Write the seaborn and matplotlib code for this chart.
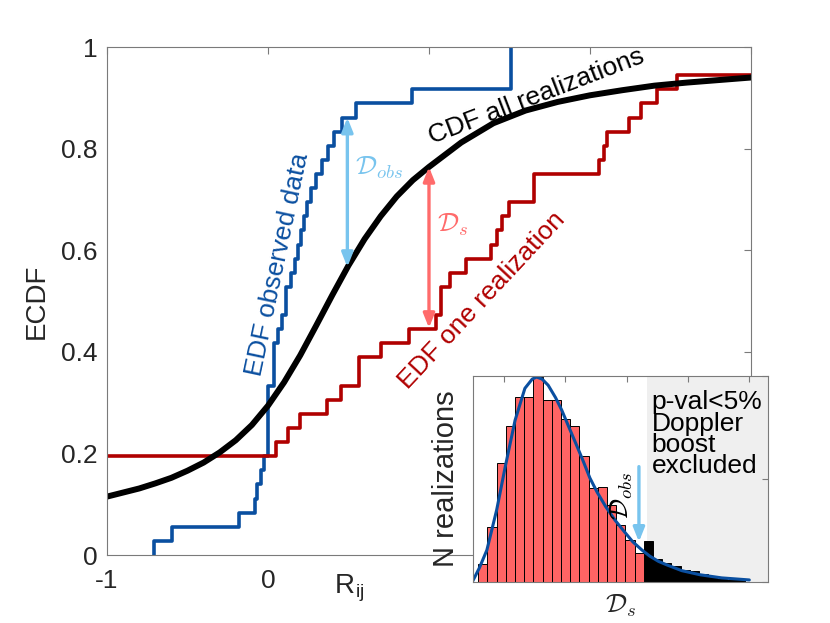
import numpy as np
import pandas as pd
import matplotlib
matplotlib.use("Agg")
import matplotlib.pyplot as plt
import seaborn as sns

# observed R_ij values (36 pairs) and one simulated realization
obs_r = [-0.708, -0.598, -0.180, -0.081, -0.066, -0.045, -0.025,
         0.003, 0.003, 0.003, 0.003, 0.003,
         0.037, 0.037, 0.037, 0.064, 0.089, 0.110, 0.110,
         0.141, 0.165, 0.185, 0.205, 0.225, 0.245, 0.270, 0.300,
         0.335, 0.370, 0.410, 0.462, 0.544, 0.896,
         1.507, 1.507, 1.507]
sim_r = [-2.6, -2.1, -1.9, -1.6, -1.4, -1.25, -1.1,
         0.048, 0.126, 0.197, 0.369, 0.452, 0.565, 0.565, 0.700, 0.876,
         1.041, 1.077, 1.077, 1.129, 1.232, 1.383, 1.424, 1.451, 1.497,
         1.652, 1.652, 2.056, 2.087, 2.107, 2.242, 2.315, 2.418, 2.542,
         3.4, 4.2]

# CDF of all realizations
cdf_r = [-1.0, -0.9, -0.8, -0.7, -0.6, -0.5, -0.4, -0.3, -0.2, -0.1, 0.0,
         0.1, 0.2, 0.3, 0.4, 0.5, 0.6, 0.7, 0.8, 0.9, 1.0, 1.2, 1.4, 1.6,
         1.8, 2.0, 2.2, 2.4, 2.6, 2.8, 3.0]
cdf_p = [0.115, 0.123, 0.131, 0.141, 0.152, 0.166, 0.182, 0.202, 0.226,
         0.256, 0.294, 0.340, 0.393, 0.452, 0.512, 0.570, 0.622, 0.667,
         0.706, 0.738, 0.764, 0.812, 0.850, 0.875, 0.892, 0.905, 0.915,
         0.924, 0.930, 0.935, 0.940]

# KS distances shown as arrows: (x, lower, upper)
d_obs = (0.493, 0.567, 0.861)
d_sim = (1.0, 0.447, 0.764)

# inset: histogram of D_s over realizations
d_bin_left = 0.058
d_bin_width = 0.015
d_counts = [17, 53, 116, 151, 180, 180, 199, 177, 177, 158, 151, 122, 91, 92,
            75, 55, 41, 28, 40, 22, 18, 16, 12, 11, 8, 5, 3, 2, 2]
d_group = ["sub"] * 18 + ["sig"] * 11
fit_d = [0.049, 0.060, 0.072, 0.088, 0.102, 0.118, 0.134, 0.146, 0.153,
         0.162, 0.172, 0.184, 0.194, 0.206, 0.216, 0.228, 0.240, 0.252,
         0.266, 0.281, 0.296, 0.310, 0.325, 0.338, 0.352, 0.366, 0.390,
         0.420, 0.455, 0.500]
fit_n = [1, 14, 31, 70, 112, 157, 188, 197, 199, 197, 191, 179, 167, 150,
         136, 119, 101, 87, 73, 60, 49, 39, 31, 25, 20, 16.5, 11, 7, 4, 2]
d_obs_inset = 0.320
p5_cut = 0.333

BLUE = "#0A4FA0"
RED = "#B00000"
LIGHTBLUE = "#78C4EE"
SALMON = "#FF6B6B"
AXC = "#7a7a7a"
TXT = "#262626"
FS = 19

sns.set_theme(style="white")
plt.rcParams["font.family"] = ["Liberation Sans", "DejaVu Sans"]
plt.rcParams["mathtext.fontset"] = "cm"

fig = plt.figure(figsize=(8.3, 6.23), dpi=100)
ax = fig.add_axes([0.1289, 0.1091, 0.7759, 0.8154])

# blue EDF from observed data
xs, cnt = np.unique(obs_r, return_counts=True)
lev = np.cumsum(cnt) / len(obs_r)
sns.lineplot(x=np.r_[xs[0], xs], y=np.r_[0.0, lev], drawstyle="steps-post",
             estimator=None, sort=False, color=BLUE, lw=2.6, ax=ax)
# red EDF of one realization
sns.ecdfplot(x=sim_r, color=RED, lw=2.6, ax=ax)
# black CDF of all realizations
sns.lineplot(x=cdf_r, y=cdf_p, color="black", lw=4.3, ax=ax,
             estimator=None, sort=False)

arr = "<|-|>,head_length=0.7,head_width=0.28"
ax.annotate("", xy=(d_obs[0], d_obs[1]), xytext=(d_obs[0], d_obs[2]),
            arrowprops=dict(arrowstyle=arr, color=LIGHTBLUE, lw=2.4,
                            shrinkA=0, shrinkB=0))
ax.annotate("", xy=(d_sim[0], d_sim[1]), xytext=(d_sim[0], d_sim[2]),
            arrowprops=dict(arrowstyle=arr, color=SALMON, lw=2.4,
                            shrinkA=0, shrinkB=0))

ax.text(0.69, 0.762, r"$\mathcal{D}_{obs}$", color=LIGHTBLUE, fontsize=FS,
        ha="center", va="center")
ax.text(1.15, 0.650, r"$\mathcal{D}_{s}$", color=SALMON, fontsize=FS,
        ha="center", va="center")
ax.text(0.058, 0.573, "EDF observed data", color=BLUE, fontsize=FS,
        rotation=78, ha="center", va="center", rotation_mode="anchor")
ax.text(1.67, 0.903, "CDF all realizations", color="black", fontsize=FS,
        rotation=21, ha="center", va="center", rotation_mode="anchor")
ax.text(1.33, 0.502, "EDF one realization", color=RED, fontsize=FS,
        rotation=47, ha="center", va="center", rotation_mode="anchor")

ax.set_xlim(-1, 3)
ax.set_ylim(0, 1)
ax.set_xticks([-1, 0, 1, 2, 3])
ax.set_xticklabels(["-1", "0", "", "", ""])
ax.set_yticks([0, 0.2, 0.4, 0.6, 0.8, 1])
ax.set_yticklabels(["0", "0.2", "0.4", "0.6", "0.8", "1"])
ax.tick_params(direction="in", top=True, right=True, length=5, width=0.8,
               color=AXC, labelsize=FS, labelcolor=TXT)
ax.tick_params(axis="y", pad=7)
ax.tick_params(axis="x", pad=10)
for s in ax.spines.values():
    s.set_color(AXC)
    s.set_linewidth(0.8)
ax.set_ylabel("ECDF", fontsize=FS + 1, color=TXT, labelpad=8)
ax.set_xlabel(r"R$_{\mathregular{ij}}$", fontsize=FS + 1, color=TXT)
ax.xaxis.set_label_coords(0.377, -0.035)

# inset
axi = fig.add_axes([0.5699, 0.0658, 0.3554, 0.3307])
edges = d_bin_left + d_bin_width * np.arange(len(d_counts) + 1)
hist_df = pd.DataFrame({"d": edges[:-1] + d_bin_width / 2,
                        "n": d_counts, "grp": d_group})
axi.axvspan(p5_cut, 0.5305, color="#EFEFEF", lw=0, zorder=0)
sns.histplot(data=hist_df, x="d", weights="n", hue="grp",
             binwidth=d_bin_width, binrange=(edges[0], edges[-1]),
             hue_order=["sub", "sig"],
             palette={"sub": "#FF6464", "sig": "black"}, alpha=1,
             edgecolor="black", linewidth=0.7, legend=False, ax=axi)
sns.lineplot(x=fit_d, y=fit_n, color=BLUE, lw=2.2, ax=axi,
             estimator=None, sort=False)
axi.annotate("", xy=(d_obs_inset, 39), xytext=(d_obs_inset, 112),
             arrowprops=dict(arrowstyle="-|>,head_length=0.7,head_width=0.28",
                             color=LIGHTBLUE, lw=2.4, shrinkA=0, shrinkB=0))
axi.text(0.2924, 84, r"$\mathcal{D}_{obs}$", fontsize=FS, rotation=90,
         ha="center", va="center", color="black")
axi.text(0.341, 186, "p-val<5%\nDoppler\nboost\nexcluded", fontsize=FS,
         ha="left", va="top", linespacing=0.85, color="black")
axi.set_xlim(0.0494, 0.5305)
axi.set_ylim(0, 200)
axi.set_xticks([0.1, 0.2, 0.3, 0.4, 0.5])
axi.set_yticks([0, 100, 200])
axi.set_xticklabels([])
axi.set_yticklabels([])
axi.tick_params(direction="in", top=True, right=True, length=4, width=0.8,
                color=AXC)
for s in axi.spines.values():
    s.set_color(AXC)
    s.set_linewidth(0.8)
axi.set_facecolor("white")
axi.set_ylabel("N realizations", fontsize=FS + 2, color=TXT, labelpad=6)
axi.set_xlabel(r"$\mathcal{D}_s$", fontsize=FS, color=TXT, labelpad=4)

fig.savefig("out.png", dpi=100)
